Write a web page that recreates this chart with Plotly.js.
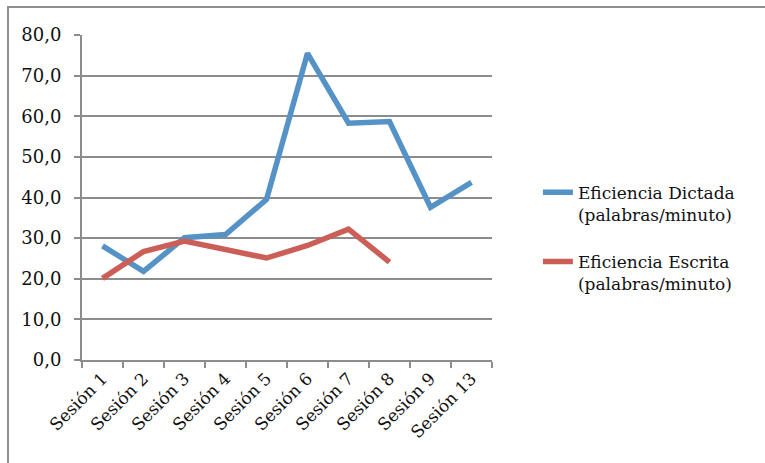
<!DOCTYPE html>
<html>
<head>
<meta charset="utf-8">
<script src="https://cdn.plot.ly/plotly-3.0.1.min.js"></script>
<style>
  html, body { margin: 0; padding: 0; background: #fff; }
  #wrap { position: relative; width: 765px; height: 463px; }
  #frame { position: absolute; left: 7px; top: 6px; right: -5px; bottom: -5px;
           border-left: 2px solid #8f8f8f; border-top: 2px solid #8f8f8f; pointer-events: none; }
  #chart { position: absolute; left: 0; top: 0; width: 765px; height: 463px; }
</style>
</head>
<body>
<div id="wrap">
  <div id="chart"></div>
  <div id="frame"></div>
</div>
<script>
const categories = ["Sesión 1", "Sesión 2", "Sesión 3", "Sesión 4", "Sesión 5",
                    "Sesión 6", "Sesión 7", "Sesión 8", "Sesión 9", "Sesión 13"];
const dictada = [28.1, 21.8, 30.1, 30.9, 39.5, 75.5, 58.3, 58.7, 37.6, 43.7];
const escrita = [20.1, 26.7, 29.3, 27.3, 25.1, 28.2, 32.2, 24.1, null, null];
const seriesNames = ["Eficiencia Dictada<br>(palabras/minuto)",
                     "Eficiencia Escrita<br>(palabras/minuto)"];
const yTicks = [0, 10, 20, 30, 40, 50, 60, 70, 80];

const serif = "DejaVu Serif, Liberation Serif, serif";
const axisGray = "#8c8c8c";

const traces = [
  { x: categories, y: dictada, name: seriesNames[0], legendgroup: "a", type: "scatter", mode: "lines",
    line: { color: "#5592C6", width: 5.5 } },
  { x: categories, y: escrita, name: seriesNames[1], legendgroup: "b", type: "scatter", mode: "lines",
    line: { color: "#CB5F57", width: 5.5 } }
];

const layout = {
  width: 765, height: 463,
  margin: { l: 82, r: 273, t: 35, b: 103 },
  paper_bgcolor: "#fff", plot_bgcolor: "#fff",
  separators: ",.",
  font: { family: serif, size: 17, color: "#111" },
  showlegend: true,
  legend: { x: 1.112, y: 0.57, xanchor: "left", yanchor: "top",
            font: { family: serif, size: 17, color: "#111" },
            valign: "top", tracegroupgap: 22, bgcolor: "rgba(0,0,0,0)" },
  xaxis: {
    type: "category", range: [-0.5, 9.5], fixedrange: true,
    showgrid: false, showline: true, linecolor: axisGray, linewidth: 2,
    ticks: "outside", tickson: "boundaries", ticklen: 6, tickwidth: 2, tickcolor: axisGray,
    tickangle: -45, tickfont: { family: serif, size: 17, color: "#111" }
  },
  yaxis: {
    range: [0, 80], tickvals: yTicks, tickformat: ".1f",
    showgrid: true, gridcolor: axisGray, gridwidth: 2,
    showline: true, linecolor: axisGray, linewidth: 2, zeroline: false,
    ticks: "outside", ticklen: 6, tickwidth: 2, tickcolor: axisGray,
    ticklabelstandoff: 9,
    tickfont: { family: serif, size: 18, color: "#111" }
  }
};

Plotly.newPlot("chart", traces, layout, { displayModeBar: false, staticPlot: true });
</script>
</body>
</html>
